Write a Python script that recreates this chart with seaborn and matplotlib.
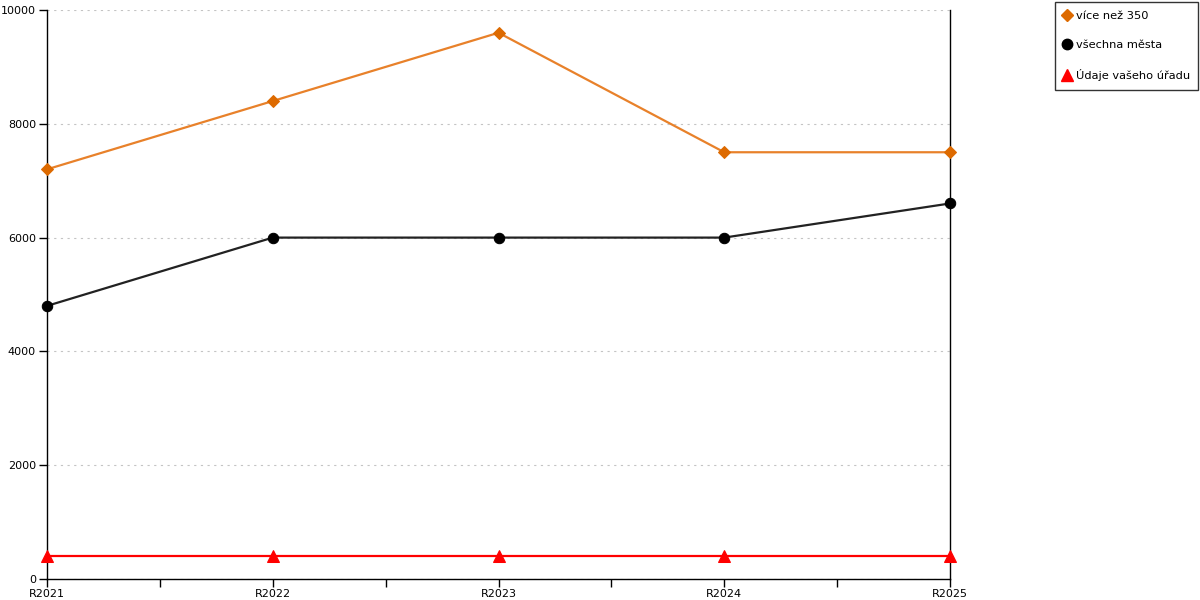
import matplotlib
matplotlib.use("Agg")
import matplotlib.pyplot as plt
import seaborn as sns
import pandas as pd
from matplotlib.lines import Line2D
from matplotlib.ticker import MultipleLocator, FixedLocator

categories = ["R2021", "R2022", "R2023", "R2024", "R2025"]
vice_nez_350 = [7200, 8400, 9600, 7500, 7500]
vsechna_mesta = [4800, 6000, 6000, 6000, 6600]
udaje_uradu = [400, 400, 400, 400, 400]

series_names = ["více než 350", "všechna města", "Údaje vašeho úřadu"]
line_colors = ["#e8812a", "#222222", "#ff0000"]
marker_colors = ["#dd6a00", "#000000", "#ff0000"]
markers = ["D", "o", "^"]
marker_sizes = [6, 7.5, 8.5]

sns.set_theme(style="white")
plt.rcParams['font.family'] = ['DejaVu Sans']

fig = plt.figure(figsize=(12, 6), dpi=100)
ax = fig.add_axes([47/1200, 21/600, (950-47)/1200, (579-10)/600])

x = list(range(len(categories)))
data = [vice_nez_350, vsechna_mesta, udaje_uradu]
for name, vals, lc, mc, mk, ms in zip(series_names, data, line_colors, marker_colors, markers, marker_sizes):
    df = pd.DataFrame({"x": x, "y": vals})
    sns.lineplot(data=df, x="x", y="y", ax=ax, color=lc, linewidth=1.6,
                 marker=mk, markersize=ms, markerfacecolor=mc, markeredgecolor=mc,
                 clip_on=False, zorder=3)

ax.set_xlim(0, 4)
ax.set_ylim(0, 10000)
ax.set_xlabel("")
ax.set_ylabel("")
ax.xaxis.set_major_locator(FixedLocator(x))
ax.set_xticklabels(categories)
ax.xaxis.set_minor_locator(FixedLocator([0.5, 1.5, 2.5, 3.5]))
ax.yaxis.set_major_locator(MultipleLocator(2000))
ax.tick_params(axis="x", which="both", direction="out", length=6, width=1, color="black",
               labelsize=8, pad=1, bottom=True, labelcolor="black")
ax.tick_params(axis="y", which="major", direction="out", length=6, width=1, color="black",
               labelsize=8, pad=2, left=True, labelcolor="black")
ax.grid(axis="y", color="#c4c4c4", linestyle=(0, (2, 4)), linewidth=0.8)
ax.grid(axis="x", visible=False)
ax.set_axisbelow(True)

for s in ["left", "bottom", "right"]:
    ax.spines[s].set_visible(True)
    ax.spines[s].set_color("black")
    ax.spines[s].set_linewidth(1)
ax.spines["top"].set_visible(False)

handles = [Line2D([], [], linestyle="none", marker=mk, markersize=ms,
                  markerfacecolor=mc, markeredgecolor=mc)
           for mk, mc, ms in zip(markers, marker_colors, marker_sizes)]
leg = fig.legend(handles, series_names, loc="upper left",
                 bbox_to_anchor=(1055/1200, 1 - 2/600), bbox_transform=fig.transFigure,
                 frameon=True, fancybox=False, edgecolor="black", fontsize=8.2,
                 handlelength=0.6, handletextpad=0.45, labelspacing=1.7,
                 borderpad=0.75, borderaxespad=0)
for t in leg.get_texts():
    t.set_color("black")
leg.get_frame().set_linewidth(1)

fig.savefig("out.png", dpi=100)
